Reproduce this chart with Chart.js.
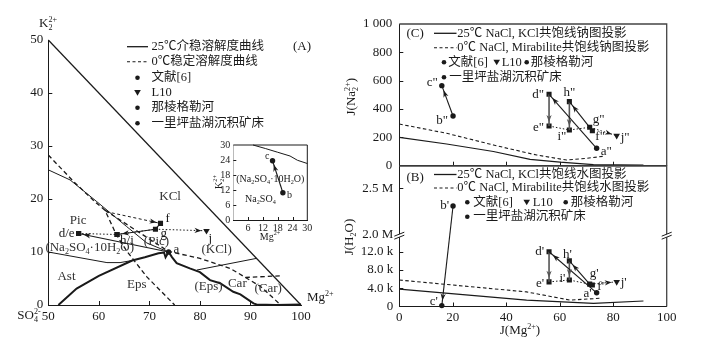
<!DOCTYPE html>
<html>
<head>
<meta charset="utf-8">
<script src="https://cdn.jsdelivr.net/npm/chart.js@4.4.0/dist/chart.umd.min.js"></script>
<style>
  html, body { margin: 0; padding: 0; background: #fff; }
  #wrap { position: relative; width: 704px; height: 339px; overflow: hidden; }
  canvas { position: absolute; left: 0; top: 0; }
</style>
</head>
<body>
<div id="wrap">
  <canvas id="chartA" width="704" height="339"></canvas>
  <canvas id="chartInset" width="704" height="339"></canvas>
  <canvas id="chartC" width="704" height="339"></canvas>
  <canvas id="chartB" width="704" height="339"></canvas>
</div>
<script>
const FONT = "'Liberation Serif', 'Noto Sans CJK SC', serif";
const INK = '#1a1a1a';

// samples a–j: Jänecke indices
const samples = ['a', 'b', 'c', 'd', 'e', 'f', 'g', 'h', 'i', 'j'];
const jMg  = [73.8, 20.1, 15.9, 56.0, 56.0, 72.2, 71.2, 63.6, 63.6, 81.3];
const jK2  = [10.0, 10.9, 23.7, 13.5, 13.5, 15.4, 14.3, 13.3, 13.3, 14.0];
const jNa2 = [123, 351, 565, 504, 280, 247, 271, 452, 252, 212];
const jH2O = [3000, 2310000, 200, 12000, 5400, 4700, 4900, 10000, 5800, 5400];

// evaporation paths between samples
const arrowPaths = [['b', 'c'], ['a', 'd'], ['g', 'h']];
const dropPaths  = [['d', 'e'], ['h', 'i']];
const linkPath   = ['f', 'g'];
const dottedPath = ['e', 'i', 'g', 'j'];

// (A) 25 °C metastable curves, J(Mg2+) vs J(K2 2+)
const kclEdgeMg = [50, 100];
const kclEdgeK  = [50, 0];
const pic25Mg = [50, 54.3, 59.6, 65.5, 69.5, 73.8];
const pic25K  = [25.5, 23.6, 19.5, 14.8, 11.7, 10.0];
const ast25Mg = [50, 61.6, 64.2, 66.6];
const ast25K  = [10.0, 8.0, 8.0, 8.4];
const main25Mg = [52, 55.6, 60, 66.6, 69.1, 71.8, 72.9, 73.2, 73.8, 74.5, 75.4, 78, 80, 82, 84, 86.6, 88, 90.6, 91.2, 95, 100];
const main25K  = [0, 3.1, 5.5, 8.4, 9.0, 9.75, 9.9, 9.0, 10.0, 9.0, 7.9, 6.9, 6.2, 4.7, 4.1, 2.5, 2.0, 0.3, 0.1, 0, 0.1];
const car25Mg = [79.4, 91.2];
const car25K  = [6.6, 8.8];

// (A) 0 °C stable curves
const eps0Mg = [50, 55, 59.2, 61.2, 63.5, 65.5, 69.5, 75];
const eps0K  = [28.3, 23.3, 19.5, 17.9, 13.2, 10.2, 5.3, 0];
const kcl0Mg = [61.2, 67, 73.8, 80, 86, 89, 95.8];
const kcl0K  = [17.9, 14.3, 10.1, 8.8, 6.9, 5.2, 5.5];
const car0Mg = [89, 92, 96];
const car0K  = [5.2, 3.5, 0];
const toFMg = [61.5, 72.2];
const toFK  = [17.6, 15.4];

// inset: 25 °C curve near the Na2SO4 corner
const insetMg = [8, 13, 18, 23, 26, 30];
const insetK  = [30, 28.6, 27.1, 25.6, 23.9, 22.6];

// (C) sodium projection
const naSolidMg = [0, 17.7, 35.2, 48.9, 60.1, 72.6, 91.3];
const naSolid   = [200, 153, 100, 45, 25, 8, 5];
const naDashMg  = [0, 17.7, 35.2, 51.4, 62.6, 70.1, 76.9];
const naDash    = [294, 229, 146, 75, 40, 52, 68];

// (B) water projection
const wSolidMg = [0, 47.6, 72.6, 91.3];
const wSolid   = [3800, 1400, 700, 1200];
const wDashMg  = [0, 47.6, 63.8, 75];
const wDash    = [5800, 3200, 1400, 1800];

// tick values
const ticksA_x = [50, 60, 70, 80, 90, 100];
const ticksA_y = [0, 10, 20, 30, 40, 50];
const ticksInset = [0, 6, 12, 18, 24, 30];
const ticksMgJ = [0, 20, 40, 60, 80, 100];
const ticksNa = [0, 200, 400, 600, 800, 1000];
const ticksH2O = [0, 4000, 8000, 12000, 2000000, 2500000];

const legendA = ['25℃介稳溶解度曲线', '0℃稳定溶解度曲线', '文献[6]', 'L10', '那棱格勒河', '一里坪盐湖沉积矿床'];
const legendC = ['25℃ NaCl, KCl共饱线钠图投影', '0℃ NaCl, Mirabilite共饱线钠图投影'];
const legendB = ['25℃ NaCl, KCl共饱线水图投影', '0℃ NaCl, Mirabilite共饱线水图投影'];
const legendSrc = ['文献[6]', 'L10', '那棱格勒河', '一里坪盐湖沉积矿床'];

const markerOf = { a: 'circle', b: 'circle', c: 'circle', d: 'rect', e: 'rect', f: 'rect', g: 'rect', h: 'rect', i: 'rect', j: 'tri' };

// ---- broken y scale for J(H2O): 0–15.3k below, ~2M and up above ----
const LinearScale = Chart.registry.getScale('linear');
const h2oSplit = { lowMax: 15300, highMin: 1982000, lowFrac: 0.497 };
class BrokenScale extends LinearScale {
  getPixelForValue(v) {
    if (v === null || v === undefined) return NaN;
    const s = h2oSplit;
    const d = v <= s.lowMax
      ? v / s.lowMax * s.lowFrac
      : s.lowFrac + (v - s.highMin) / (this.max - s.highMin) * (1 - s.lowFrac);
    return this.getPixelForDecimal(d);
  }
}
BrokenScale.id = 'broken';
BrokenScale.defaults = LinearScale.defaults;
Chart.register(BrokenScale);

// ---- helpers ----
const pts = (xs, ys) => xs.map((x, i) => ({ x, y: ys[i] }));
const pick = (names, xs, ys) => names.map(n => { const i = samples.indexOf(n); return { x: xs[i], y: ys[i] }; });

function line(data, opt) {
  return Object.assign({ data, showLine: true, pointRadius: 0, borderColor: INK, backgroundColor: INK,
    borderWidth: 1, tension: 0, clip: 10 }, opt);
}

function markers(names, xs, ys) {
  const out = [];
  const styles = { circle: ['circle', 2.7, 0], rect: ['rect', 3.6, 0], tri: ['triangle', 3.8, 180] };
  Object.keys(styles).forEach(k => {
    const sel = names.filter(n => markerOf[n] === k);
    if (!sel.length) return;
    const [ps, r, rot] = styles[k];
    out.push({ data: pick(sel, xs, ys), pointStyle: ps, pointRadius: r, pointRotation: rot,
      backgroundColor: INK, borderColor: INK, borderWidth: 0, showLine: false, clip: 10 });
  });
  return out;
}

function pathSets(xs, ys, withDrops) {
  const sets = [];
  arrowPaths.forEach(p => sets.push(line(pick(p, xs, ys), { borderWidth: 1.1, head: 5 })));
  sets.push(line(pick(linkPath, xs, ys), { borderWidth: 1.1 }));
  if (withDrops) dropPaths.forEach(p => sets.push(line(pick(p, xs, ys), { borderWidth: 1.6, borderColor: '#555', head: 4 })));
  sets.push(line(pick(dottedPath, xs, ys), { borderWidth: 1, borderDash: [1.5, 2], head: 5 }));
  return sets;
}

function drawHead(ctx, x1, y1, x2, y2, gap, color) {
  const a = Math.atan2(y2 - y1, x2 - x1);
  ctx.save();
  ctx.translate(x2 - Math.cos(a) * gap, y2 - Math.sin(a) * gap);
  ctx.rotate(a);
  ctx.beginPath();
  ctx.moveTo(0, 0); ctx.lineTo(-7, -2.6); ctx.lineTo(-5, 0); ctx.lineTo(-7, 2.6);
  ctx.closePath();
  ctx.fillStyle = color;
  ctx.fill();
  ctx.restore();
}

function heads(chart) {
  chart.data.datasets.forEach((ds, i) => {
    if (!ds.head) return;
    const el = chart.getDatasetMeta(i).data;
    const p1 = el[el.length - 2], p2 = el[el.length - 1];
    if (Math.hypot(p2.x - p1.x, p2.y - p1.y) < 6) return;
    drawHead(chart.ctx, p1.x, p1.y, p2.x, p2.y, ds.head, ds.borderColor);
  });
}

// text with _sub, ^sup and {groups}; a sub followed by a sup is stacked
function richParts(s) {
  const parts = [];
  let i = 0;
  while (i < s.length) {
    const c = s[i];
    if (c === '_' || c === '^') {
      let t;
      if (s[i + 1] === '{') { const j = s.indexOf('}', i); t = s.slice(i + 2, j); i = j + 1; }
      else { t = s[i + 1]; i += 2; }
      parts.push({ t, k: c === '_' ? 'sub' : 'sup' });
    } else {
      let j = i;
      while (j < s.length && s[j] !== '_' && s[j] !== '^') j++;
      parts.push({ t: s.slice(i, j), k: 'n' });
      i = j;
    }
  }
  return parts;
}

function rich(ctx, s, x, y, size, align, color) {
  const parts = richParts(s);
  const big = `${size}px ${FONT}`, small = `${(size * 0.62).toFixed(1)}px ${FONT}`;
  const items = [];
  let w = 0, lastSub = null;
  parts.forEach(p => {
    ctx.font = p.k === 'n' ? big : small;
    const pw = ctx.measureText(p.t).width;
    if (p.k === 'sup' && lastSub) {
      items.push({ ...p, x: lastSub.x });
      w = Math.max(w, lastSub.x + pw);
      lastSub = null;
      return;
    }
    const it = { ...p, x: w };
    items.push(it);
    w += pw;
    lastSub = p.k === 'sub' ? { x: it.x } : null;
  });
  const x0 = align === 'center' ? x - w / 2 : align === 'right' ? x - w : x;
  ctx.fillStyle = color || INK;
  ctx.textAlign = 'left';
  ctx.textBaseline = 'middle';
  items.forEach(it => {
    ctx.font = it.k === 'n' ? big : small;
    const dy = it.k === 'sub' ? size * 0.3 : it.k === 'sup' ? -size * 0.33 : 0;
    ctx.fillText(it.t, x0 + it.x, y + dy);
  });
}

function richRot(ctx, s, x, y, size) {
  ctx.save();
  ctx.translate(x, y);
  ctx.rotate(-Math.PI / 2);
  rich(ctx, s, 0, 0, size, 'center');
  ctx.restore();
}

function innerTicks(chart, axis, values, len) {
  const s = chart.scales[axis], a = chart.chartArea, ctx = chart.ctx;
  ctx.beginPath();
  values.forEach(v => {
    const p = Math.round(s.getPixelForValue(v)) + 0.5;
    if (s.isHorizontal()) { ctx.moveTo(p, a.bottom); ctx.lineTo(p, a.bottom - len); }
    else { ctx.moveTo(a.left, p); ctx.lineTo(a.left + len, p); }
  });
  ctx.strokeStyle = INK;
  ctx.lineWidth = 1;
  ctx.stroke();
}

function boxTopRight(chart, color, width) {
  const a = chart.chartArea, ctx = chart.ctx;
  ctx.beginPath();
  ctx.moveTo(a.left, a.top); ctx.lineTo(a.right, a.top); ctx.lineTo(a.right, a.bottom);
  ctx.strokeStyle = color; ctx.lineWidth = width; ctx.stroke();
}

function pointLabels(chart, list, xs, ys, size) {
  const ctx = chart.ctx;
  list.forEach(([n, t, dx, dy, al]) => {
    const i = samples.indexOf(n);
    const X = chart.scales.x.getPixelForValue(xs[i]);
    const Y = chart.scales.y.getPixelForValue(ys[i]);
    rich(ctx, t, X + dx, Y + dy, size, al || 'left');
  });
}

function sym(ctx, kind, x, y) {
  ctx.fillStyle = INK;
  ctx.beginPath();
  if (kind === 'tri') { ctx.moveTo(x - 3.3, y - 2.6); ctx.lineTo(x + 3.3, y - 2.6); ctx.lineTo(x, y + 3); ctx.closePath(); }
  else ctx.arc(x, y, 2.3, 0, Math.PI * 2);
  ctx.fill();
}

function sample(ctx, x1, x2, y, dash) {
  ctx.beginPath();
  ctx.setLineDash(dash ? [3, 2.5] : []);
  ctx.moveTo(x1, y); ctx.lineTo(x2, y);
  ctx.strokeStyle = INK; ctx.lineWidth = dash ? 1.1 : 1.3; ctx.stroke();
  ctx.setLineDash([]);
}

function say(ctx, s, x, y, size) {
  ctx.font = `${size || 12.5}px ${FONT}`;
  ctx.fillStyle = INK; ctx.textAlign = 'left'; ctx.textBaseline = 'middle';
  ctx.fillText(s, x, y);
}

// full-window canvases; the plot area of each is placed with layout padding
function frame(left, top, right, bottom, yW, xH) {
  return { padding: { left: left - yW, top, right: 704 - right, bottom: 339 - bottom - xH } };
}
function axis(type, min, max, ticks, size, pad, fmt, fit, extra) {
  return Object.assign({
    type, min, max,
    afterBuildTicks: s => { s.ticks = ticks.map(v => ({ value: v })); },
    afterFit: fit,
    grid: { display: false, drawTicks: false },
    border: { display: true, color: INK, width: 1 },
    ticks: { font: { family: FONT, size }, color: INK, padding: pad, callback: fmt,
      autoSkip: false, maxRotation: 0, minRotation: 0 }
  }, extra || {});
}
const fitY = w => s => { s.width = w; s.paddingTop = 0; s.paddingBottom = 0; };
const fitX = h => s => { s.height = h; s.paddingLeft = 0; s.paddingRight = 0; };

function make(id, datasets, scales, layout, draw, before) {
  return new Chart(document.getElementById(id), {
    type: 'scatter',
    data: { datasets },
    options: {
      responsive: false, animation: false, devicePixelRatio: 1, events: [],
      layout, scales,
      plugins: { legend: { display: false }, tooltip: { enabled: false } }
    },
    plugins: [{
      id: id + 'Decor',
      beforeDatasetsDraw: chart => { if (before) { chart.ctx.save(); before(chart, chart.ctx); chart.ctx.restore(); } },
      afterDatasetsDraw: chart => { const ctx = chart.ctx; ctx.save(); heads(chart); draw(chart, ctx); ctx.restore(); }
    }]
  });
}

// ---- (A) Jänecke diagram ----
const namesA = ['a', 'd', 'e', 'f', 'g', 'h', 'i', 'j'];
const dash0 = { borderDash: [4.5, 3], borderWidth: 1.3 };
const dsA = [
  line(pts(kclEdgeMg, kclEdgeK), { borderWidth: 1.2 }),
  line(pts(pic25Mg, pic25K)),
  line(pts(ast25Mg, ast25K)),
  line(pts(car25Mg, car25K)),
  line(pts(main25Mg, main25K), { borderWidth: 2 }),
  line(pts(eps0Mg, eps0K), dash0),
  line(pts(kcl0Mg, kcl0K), dash0),
  line(pts(car0Mg, car0K), dash0),
  line(pts(toFMg, toFK), { borderDash: [3, 2.5], borderWidth: 1, head: 4 }),
  ...pathSets(jMg, jK2, false),
  ...markers(namesA, jMg, jK2)
];
const phaseA = [
  ['KCl', 74.1, 20.4], ['Pic', 55.9, 16.0], ['(Na_2SO_4·10H_2O)', 58.2, 10.8], ['(Pic)', 71.4, 11.9],
  ['(KCl)', 83.3, 10.4], ['Ast', 53.6, 5.3], ['Eps', 67.5, 3.9], ['(Eps)', 81.7, 3.5],
  ['Car', 87.4, 4.1], ['(Car)', 93.5, 3.1]
];
const labelsA = [
  ['a', 'a', 5, -2], ['d', 'd/e', -4, 0, 'right'], ['h', 'h/i', 3, 6], ['g', 'g', 5, 4],
  ['f', 'f', 5, -5], ['j', 'j', 2, 8]
];

make('chartA', dsA, {
  x: axis('linear', 50, 100, ticksA_x, 13, 4, v => v, fitX(24)),
  y: axis('linear', 0, 50, ticksA_y, 13, 5, v => v, fitY(40))
}, frame(48.3, 40, 301, 305, 40, 24), (chart, ctx) => {
  innerTicks(chart, 'x', [60, 70, 80, 90], 4);
  innerTicks(chart, 'y', [10, 20, 30, 40], 4);
  const sx = chart.scales.x, sy = chart.scales.y;
  phaseA.forEach(([t, x, y]) => rich(ctx, t, sx.getPixelForValue(x), sy.getPixelForValue(y), 13, 'center', '#333'));
  pointLabels(chart, labelsA, jMg, jK2, 13);
  rich(ctx, 'K_{2}^{2+}', 48, 24, 13, 'center');
  rich(ctx, 'SO_{4}^{2-}', 29, 316, 13, 'center');
  rich(ctx, 'Mg^{2+}', 307, 298, 13, 'left');
  say(ctx, '(A)', 293, 47, 13);
  // legend
  const rows = [46.7, 61.7, 77.7, 92.7, 107.7, 123.3];
  sample(ctx, 127, 148, rows[0], false);
  sample(ctx, 127, 148, rows[1], true);
  ['dot', 'tri', 'dot', 'dot'].forEach((k, i) => sym(ctx, k, 137.5, rows[i + 2]));
  legendA.forEach((t, i) => say(ctx, t, 151.5, rows[i]));
});

// ---- inset: Na2SO4 corner ----
const dsInset = [
  line(pts(insetMg, insetK)),
  line(pick(['b', 'c'], jMg, jK2), { borderWidth: 1.1, head: 4 }),
  ...markers(['b', 'c'], jMg, jK2)
];
make('chartInset', dsInset, {
  x: axis('linear', 0, 30, ticksInset, 10, 2, v => (v === 0 ? '' : v), fitX(14)),
  y: axis('linear', 0, 30, ticksInset, 10, 3, v => v, fitY(18))
}, frame(233.3, 145, 307.3, 220, 18, 14), (chart, ctx) => {
  boxTopRight(chart, INK, 1);
  innerTicks(chart, 'x', [6, 12, 18, 24], 3);
  innerTicks(chart, 'y', [6, 12, 18, 24], 3);
  const sx = chart.scales.x, sy = chart.scales.y;
  rich(ctx, '(Na_2SO_4·10H_2O)', sx.getPixelForValue(15), sy.getPixelForValue(16.3), 10, 'center');
  rich(ctx, 'Na_2SO_4', sx.getPixelForValue(11), sy.getPixelForValue(8.3), 10, 'center');
  pointLabels(chart, [['c', 'c', -3, -4, 'right'], ['b', 'b', 4, 3]], jMg, jK2, 10);
  richRot(ctx, 'K_{2}^{2+}', 219, 182, 10);
  rich(ctx, 'Mg^{2+}', 270, 237, 10, 'center');
}, (chart, ctx) => {
  const a = chart.chartArea;
  ctx.fillStyle = '#fff';
  ctx.fillRect(a.left, a.top, a.right - a.left, a.bottom - a.top);
});

// ---- (C) sodium projection ----
const dsC = [
  line(pts(naSolidMg, naSolid), { borderWidth: 1.2 }),
  line(pts(naDashMg, naDash), { borderDash: [3.5, 2.5], borderWidth: 1.1 }),
  ...pathSets(jMg, jNa2, true),
  ...markers(samples, jMg, jNa2)
];
const labelsC = [
  ['c', 'c"', -4, -3, 'right'], ['b', 'b"', -5, 5, 'right'], ['d', 'd"', -5, 0, 'right'],
  ['e', 'e"', -5, 2, 'right'], ['h', 'h"', 0, -9, 'center'], ['i', 'i"', -3, 7, 'right'],
  ['g', 'g"', 3, -8], ['f', 'f"', 3, 6], ['a', 'a"', 4, 3], ['j', 'j"', 4, 2]
];
make('chartC', dsC, {
  x: axis('linear', 0, 100, ticksMgJ, 13, 0, v => v, fitX(0), { ticks: { display: false } }),
  y: axis('linear', 0, 1000, ticksNa, 13, 7, v => (v === 1000 ? '1 000' : v), fitY(45))
}, frame(399.3, 24, 666.7, 165.7, 45, 0), (chart, ctx) => {
  boxTopRight(chart, '#444', 1.3);
  innerTicks(chart, 'y', [200, 400, 600, 800], 4);
  innerTicks(chart, 'x', [20, 40, 60, 80], 4);
  pointLabels(chart, labelsC, jMg, jNa2, 13);
  richRot(ctx, 'J(Na_{2}^{2+})', 351.7, 96.7, 13);
  say(ctx, '(C)', 406.5, 33.3, 13);
  sample(ctx, 434, 456.5, 33.3, false);
  sample(ctx, 434, 456.5, 47.7, true);
  say(ctx, legendC[0], 457.3, 33.3);
  say(ctx, legendC[1], 457.3, 47.7);
  sym(ctx, 'dot', 444, 62.3); say(ctx, legendSrc[0], 448.3, 62.3);
  sym(ctx, 'tri', 496.7, 62.3); say(ctx, legendSrc[1], 501.7, 62.3);
  sym(ctx, 'dot', 526.7, 62.3); say(ctx, legendSrc[2], 530.7, 62.3);
  sym(ctx, 'dot', 444, 77.3); say(ctx, legendSrc[3], 449.3, 77.3);
});

// ---- (B) water projection ----
const dsB = [
  line(pts(wSolidMg, wSolid), { borderWidth: 1.2 }),
  line(pts(wDashMg, wDash), { borderDash: [3.5, 2.5], borderWidth: 1.1 }),
  ...pathSets(jMg, jH2O, true),
  ...markers(samples, jMg, jH2O)
];
const labelsB = [
  ['b', "b'", -4, 0, 'right'], ['c', "c'", -4, -4, 'right'], ['d', "d'", -5, 0, 'right'],
  ['e', "e'", -5, 2, 'right'], ['h', "h'", -2, -6, 'center'], ['i', "i'", -4, -1, 'right'],
  ['g', "g'", 0, -11], ['f', "f'", 5, 2], ['a', "a'", -5, 1, 'right'], ['j', "j'", 4, 1]
];
const fmtH2O = v => (v === 0 ? '0' : v >= 1e6 ? (v / 1e6).toFixed(1) + ' M' : (v / 1000).toFixed(1) + ' k');
make('chartB', dsB, {
  x: axis('linear', 0, 100, ticksMgJ, 13, 3, v => v, fitX(20)),
  y: axis('broken', 0, 2739000, ticksH2O, 13, 6, fmtH2O, fitY(45))
}, frame(399.3, 166, 666.7, 306.5, 45, 20), (chart, ctx) => {
  boxTopRight(chart, '#444', 1.3);
  innerTicks(chart, 'y', [4000, 8000, 12000, 2500000], 4);
  innerTicks(chart, 'x', [20, 40, 60, 80], 4);
  // axis break marks
  const a = chart.chartArea;
  const yb = a.bottom - h2oSplit.lowFrac * (a.bottom - a.top);
  [a.left, a.right].forEach(x => {
    ctx.fillStyle = '#fff';
    ctx.beginPath();
    ctx.moveTo(x - 5, yb + 2.5); ctx.lineTo(x + 5, yb - 1.5); ctx.lineTo(x + 5, yb - 4.5); ctx.lineTo(x - 5, yb - 0.5);
    ctx.closePath(); ctx.fill();
    ctx.beginPath();
    ctx.moveTo(x - 5, yb + 2.5); ctx.lineTo(x + 5, yb - 1.5);
    ctx.moveTo(x - 5, yb - 0.5); ctx.lineTo(x + 5, yb - 4.5);
    ctx.strokeStyle = INK; ctx.lineWidth = 1; ctx.stroke();
  });
  pointLabels(chart, labelsB, jMg, jH2O, 13);
  richRot(ctx, 'J(H_2O)', 350, 237, 13);
  rich(ctx, 'J(Mg^{2+})', 520, 331, 13, 'center');
  say(ctx, '(B)', 406.5, 178, 13);
  sample(ctx, 434, 456.5, 174.5, false);
  sample(ctx, 434, 456.5, 188, true);
  say(ctx, legendB[0], 457.3, 174.5);
  say(ctx, legendB[1], 457.3, 188);
  sym(ctx, 'dot', 467.3, 202.3); say(ctx, legendSrc[0], 473.3, 202.3);
  sym(ctx, 'tri', 526.7, 202.3); say(ctx, legendSrc[1], 532.7, 202.3);
  sym(ctx, 'dot', 565.7, 202.3); say(ctx, legendSrc[2], 570.7, 202.3);
  sym(ctx, 'dot', 467.3, 216.7); say(ctx, legendSrc[3], 473.3, 216.7);
});
</script>
</body>
</html>
